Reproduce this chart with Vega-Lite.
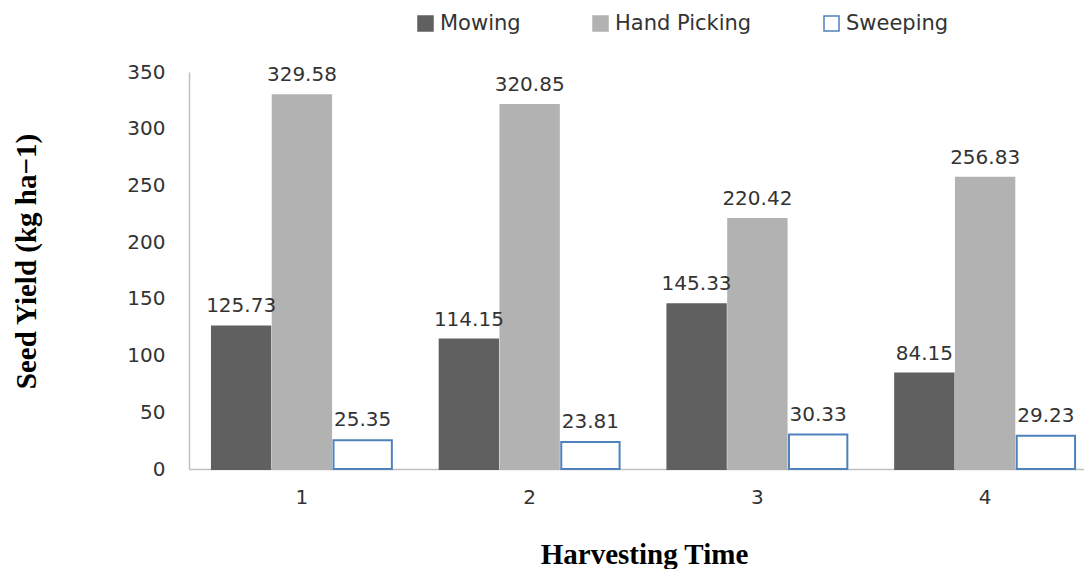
{
  "$schema": "https://vega.github.io/schema/vega-lite/v6.json",
  "width": 895,
  "height": 397,
  "autosize": {"type": "none"},
  "padding": {"left": 189, "top": 72, "right": 0, "bottom": 100},
  "background": "white",
  "config": {"view": {"stroke": null}},
  "data": {
    "values": [
      {"time": "1", "method": "Mowing", "yield": 125.73},
      {"time": "1", "method": "Hand Picking", "yield": 329.58},
      {"time": "1", "method": "Sweeping", "yield": 25.35},
      {"time": "2", "method": "Mowing", "yield": 114.15},
      {"time": "2", "method": "Hand Picking", "yield": 320.85},
      {"time": "2", "method": "Sweeping", "yield": 23.81},
      {"time": "3", "method": "Mowing", "yield": 145.33},
      {"time": "3", "method": "Hand Picking", "yield": 220.42},
      {"time": "3", "method": "Sweeping", "yield": 30.33},
      {"time": "4", "method": "Mowing", "yield": 84.15},
      {"time": "4", "method": "Hand Picking", "yield": 256.83},
      {"time": "4", "method": "Sweeping", "yield": 29.23}
    ]
  },
  "encoding": {
    "x": {
      "field": "time",
      "type": "nominal",
      "scale": {"paddingInner": 0.21, "paddingOuter": 0.07, "align": 0.72},
      "axis": {
        "labelAngle": 0,
        "ticks": false,
        "labelPadding": 18,
        "labelFont": "DejaVu Sans",
        "labelFontSize": 20,
        "labelColor": "#333333",
        "domainColor": "#c0c0c0",
        "domainWidth": 1.5,
        "grid": false,
        "title": "Harvesting Time",
        "titleFont": "Liberation Serif",
        "titleFontSize": 29,
        "titleFontWeight": "bold",
        "titleColor": "#000000",
        "titleX": 455,
        "titleY": 94,
        "titleAlign": "center",
        "titleBaseline": "alphabetic"
      }
    },
    "xOffset": {
      "field": "method",
      "type": "nominal",
      "sort": ["Mowing", "Hand Picking", "Sweeping"],
      "scale": {"paddingInner": 0.04}
    },
    "y": {
      "field": "yield",
      "type": "quantitative",
      "scale": {"domain": [0, 350], "nice": false},
      "axis": {
        "values": [0, 50, 100, 150, 200, 250, 300, 350],
        "ticks": false,
        "grid": false,
        "labelPadding": 24,
        "labelFont": "DejaVu Sans",
        "labelFontSize": 20,
        "labelColor": "#333333",
        "domainColor": "#c0c0c0",
        "domainWidth": 1.5,
        "title": "Seed Yield (kg ha\u22121)",
        "titleFont": "Liberation Serif",
        "titleFontSize": 29,
        "titleFontWeight": "bold",
        "titleColor": "#000000",
        "titleAngle": -90,
        "titleX": -163,
        "titleY": 189,
        "titleAlign": "center",
        "titleBaseline": "middle"
      }
    }
  },
  "layer": [
    {
      "mark": {"type": "bar", "strokeWidth": 2},
      "encoding": {
        "fill": {
          "field": "method",
          "type": "nominal",
          "sort": ["Mowing", "Hand Picking", "Sweeping"],
          "scale": {"domain": ["Mowing", "Hand Picking", "Sweeping"], "range": ["#606060", "#b2b2b2", "#ffffff"]},
          "legend": {
            "title": null,
            "orient": "none",
            "direction": "horizontal",
            "legendX": 226,
            "legendY": -59,
            "padding": 0,
            "symbolType": "square",
            "symbolSize": 225,
            "symbolStrokeWidth": 1.5,
            "labelFont": "DejaVu Sans",
            "labelFontSize": 21,
            "labelColor": "#333333",
            "labelOffset": 4,
            "columnPadding": 69
          }
        },
        "stroke": {
          "field": "method",
          "type": "nominal",
          "sort": ["Mowing", "Hand Picking", "Sweeping"],
          "scale": {"domain": ["Mowing", "Hand Picking", "Sweeping"], "range": ["#606060", "#b2b2b2", "#4f81bd"]},
          "legend": {
            "title": null,
            "orient": "none",
            "direction": "horizontal",
            "legendX": 226,
            "legendY": -59,
            "padding": 0,
            "symbolType": "square",
            "symbolSize": 225,
            "symbolStrokeWidth": 1.5,
            "labelFont": "DejaVu Sans",
            "labelFontSize": 21,
            "labelColor": "#333333",
            "labelOffset": 4,
            "columnPadding": 69
          }
        }
      }
    },
    {
      "mark": {"type": "text", "baseline": "alphabetic", "dy": -14, "font": "DejaVu Sans", "fontSize": 20, "color": "#333333"},
      "encoding": {
        "text": {"field": "yield", "type": "quantitative", "format": ".2f"}
      }
    }
  ]
}
